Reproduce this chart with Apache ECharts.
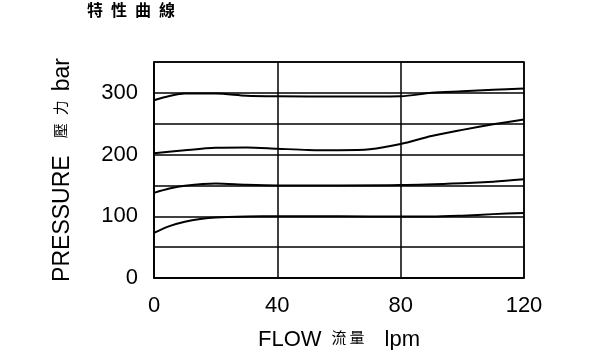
<!DOCTYPE html>
<html><head><meta charset="utf-8">
<script src="https://cdn.jsdelivr.net/npm/echarts@6/dist/echarts.min.js"></script>
<style>html,body{margin:0;padding:0;background:#fff}#c{width:600px;height:350px}</style>
</head><body><div id="c"></div>
<script>
const titleText = '特性曲線';
const xNameParts = ['FLOW', '流', '量', 'lpm'];
const yNameParts = ['PRESSURE', '壓', '力', 'bar'];
const yTickLabels = [0, 100, 200, 300];
const curve1 = [[0,288],[5,295],[10,299],[20,299],[30,295.5],[40,294.5],[60,294],[80,294.5],[90,300],[100,302.5],[110,305],[120,307]];
const curve2 = [[0,202],[10,207],[20,211],[30,211.5],[40,209.5],[50,207.5],[60,207],[70,208.5],[80,217],[90,230],[100,240],[110,249],[120,257]];
const curve3 = [[0,138],[5,145],[10,149.5],[20,153],[30,151],[40,150],[60,150],[80,150.5],[100,153.5],[110,156],[120,160]];
const curve4 = [[0,73],[5,84],[10,91],[15,95.5],[20,98],[30,99.5],[40,100],[60,100],[80,99.5],[90,99.5],[100,101],[110,103.5],[120,105.5]];

const font = 'Liberation Sans, Arial, sans-serif';
const cjk = '"Noto Sans CJK TC", sans-serif';
const chart = echarts.init(document.getElementById('c'), null, {renderer: 'canvas'});
function mkSeries(d){
  return {type:'line', data:d, smooth:0.3, symbol:'none', lineStyle:{color:'#000', width:2}, silent:true};
}
const richX = {
  a:{fontFamily:font, fontSize:22, color:'#000'},
  c1:{fontFamily:cjk, fontSize:15, color:'#000', padding:[0,3,5,10]},
  c2:{fontFamily:cjk, fontSize:15, color:'#000', padding:[0,20,5,0]}
};
const richY = {
  a:{fontFamily:font, fontSize:23, color:'#000'},
  c1:{fontFamily:cjk, fontSize:15, color:'#000', padding:[0,8,5,17]},
  c2:{fontFamily:cjk, fontSize:15, color:'#000', padding:[0,9,5,0]}
};
function nameOf(p){ return '{a|' + p[0] + '}{c1|' + p[1] + '}{c2|' + p[2] + '}{a|' + p[3] + '}'; }
chart.setOption({
  animation:false,
  title:{text:titleText.split('').join('\u2002'), left:82, top:-3,
    textStyle:{fontFamily:cjk, fontSize:16, fontWeight:'bold', color:'#000'}},
  grid:{left:154, right:76, top:62, bottom:72, show:true, borderColor:'#000', borderWidth:1.5,
    containLabel:false, outerBoundsMode:'none'},
  xAxis:{type:'value', min:0, max:120, interval:40,
    name:nameOf(xNameParts), nameLocation:'middle', nameGap:51,
    nameTextStyle:{rich:richX},
    axisLine:{show:true, lineStyle:{color:'#000', width:1.5}},
    axisTick:{show:false},
    axisLabel:{fontFamily:font, fontSize:22, color:'#000', margin:17},
    splitLine:{show:true, lineStyle:{color:'#000', width:1.5}}},
  yAxis:{type:'value', min:0, max:350, interval:50,
    name:nameOf(yNameParts), nameLocation:'middle', nameGap:80, nameRotate:90,
    nameTextStyle:{rich:richY},
    axisLine:{show:true, lineStyle:{color:'#000', width:1.5}},
    axisTick:{show:false},
    axisLabel:{fontFamily:font, fontSize:22, color:'#000', margin:16,
      formatter:v => yTickLabels.includes(v) ? String(v) : ''},
    splitLine:{show:true, lineStyle:{color:'#000', width:1.5}}},
  series:[mkSeries(curve1), mkSeries(curve2), mkSeries(curve3), mkSeries(curve4)]
});
</script></body></html>
